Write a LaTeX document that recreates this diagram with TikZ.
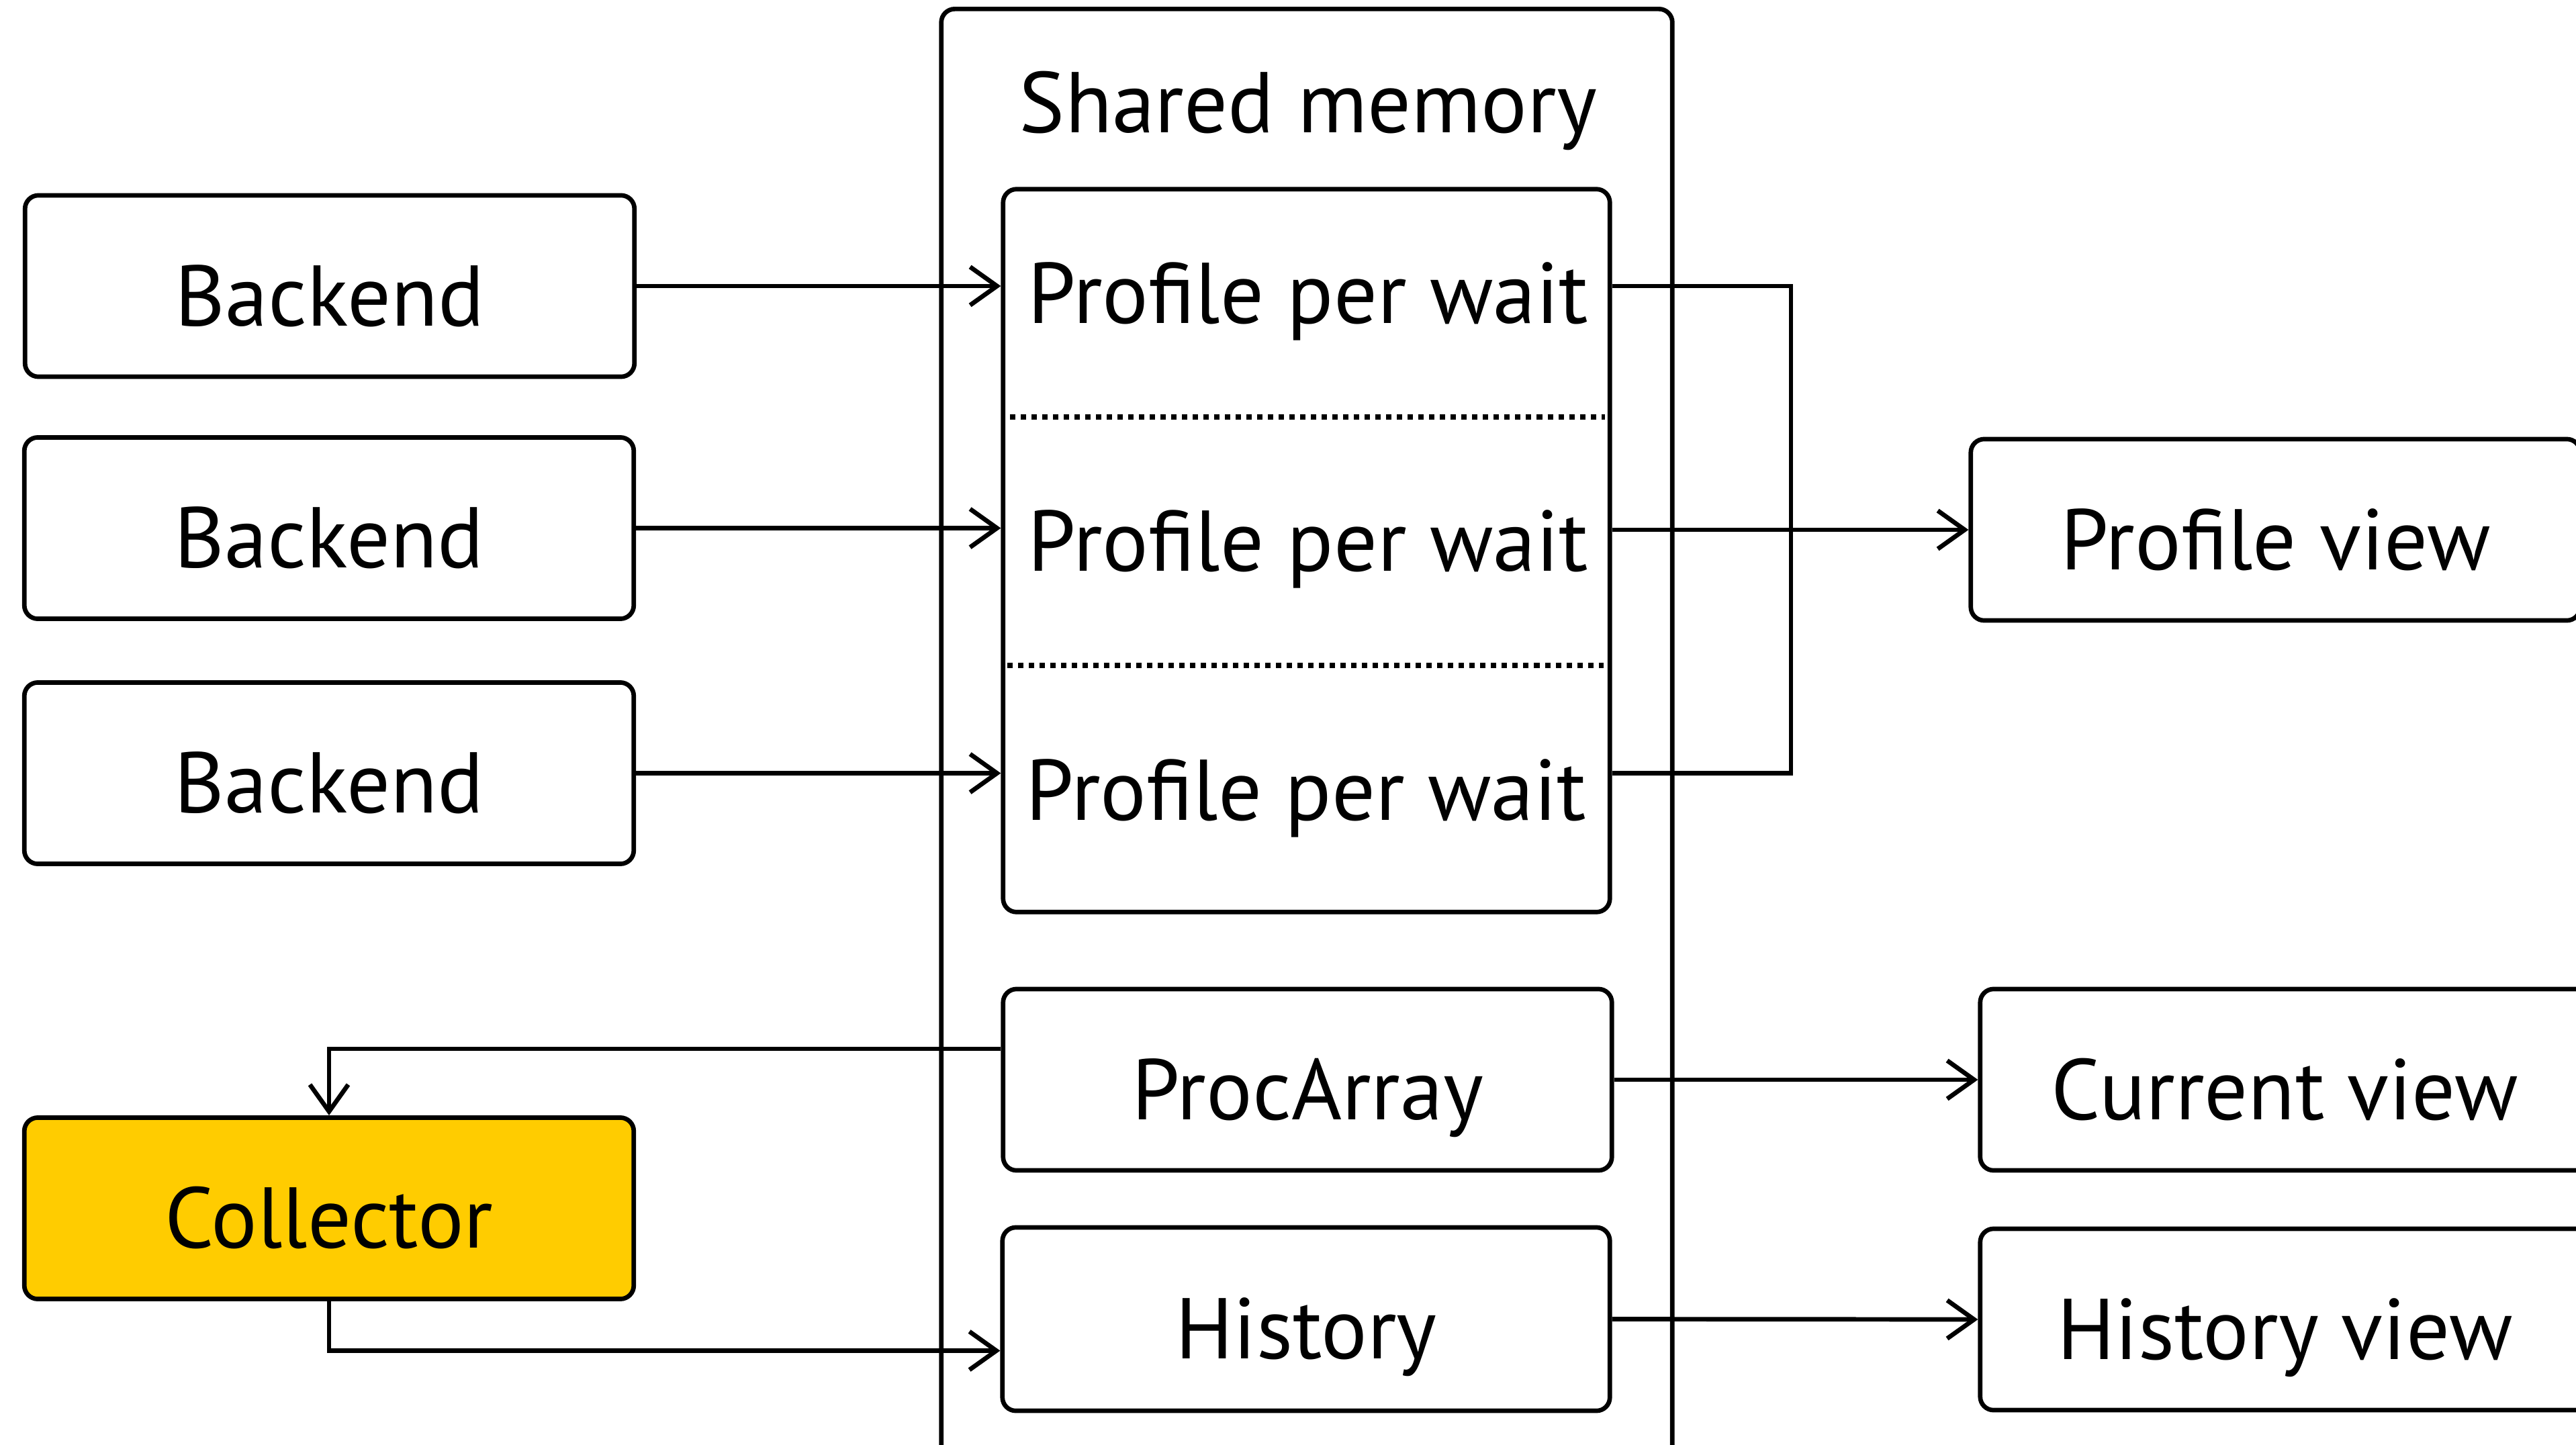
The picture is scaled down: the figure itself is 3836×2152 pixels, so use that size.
\documentclass[tikz,border=0pt]{standalone}
\usepackage{fontspec}
\setmainfont{PT Sans}
\usetikzlibrary{arrows.meta,calc}
\definecolor{collyellow}{HTML}{FFCC00}
\tikzset{
  lw/.style={line width=0.067cm},
  box/.style={draw, lw, rounded corners=0.2cm, inner sep=0pt, minimum width=9.07cm, minimum height=2.70cm,
    font=\fontsize{36.5pt}{40pt}\selectfont, text height=1.4cm, text depth=0.22cm},
  lbl/.style={inner sep=0pt, font=\fontsize{36.5pt}{40pt}\selectfont, text height=1.4cm, text depth=0.22cm},
  conn/.style={lw, line join=miter},
  arr/.style={conn, -{Straight Barb[length=0.4cm,width=0.57cm,line width=0.067cm]}},
  sep/.style={line width=0.08cm, dash pattern=on 0.08cm off 0.08cm}
}
\begin{document}
\begin{tikzpicture}[x=0.01cm,y=-0.01cm]
\useasboundingbox (0,0) rectangle (3836,2152);
% shared memory container
\node[draw, lw, rounded corners=0.2cm, inner sep=0pt, minimum width=10.88cm, minimum height=21.56cm] (shm) at (1946,1092) {};
\node[inner sep=0pt, anchor=base, font=\fontsize{36.5pt}{40pt}\selectfont] (shmt) at (1948,198) {Shared memory};
% backends
\node[box] (b1) at (491,426) {Backend};
\node[box] (b2) at (490,786.5) {Backend};
\node[box] (b3) at (490,1151.5) {Backend};
\node[box, fill=collyellow] (coll) at (490,1799.5) {Collector};
% profile block
\node[draw, lw, rounded corners=0.2cm, inner sep=0pt, minimum width=9.03cm, minimum height=10.76cm] (prof) at (1945.5,820) {};
\coordinate (d1l) at (1504,621); \coordinate (d1r) at (2390,621);
\coordinate (d2l) at (1500,991); \coordinate (d2r) at (2388,991);
\draw[sep] (d1l) -- (d1r);
\draw[sep] (d2l) -- (d2r);
\node[lbl] (p1) at (1948,422) {Profile per wait};
\node[lbl] (p2) at (1948,791) {Profile per wait};
\node[lbl] (p3) at (1945,1162) {Profile per wait};
\node[box, minimum width=9.06cm] (proc) at (1947,1608) {ProcArray};
\node[box, minimum width=9.04cm, minimum height=2.73cm] (hist) at (1945,1964.5) {History};
% views
\node[box] (pview) at (3388.5,789) {Profile view};
\node[box] (cview) at (3402.5,1608) {Current view};
\node[box] (hview) at (3402.5,1965) {History view};
% connectors
\draw[arr] (b1.east) -- (b1.east -| prof.west);
\draw[arr] (b2.east) -- (b2.east -| prof.west);
\draw[arr] (b3.east) -- (b3.east -| prof.west);
\coordinate (br) at (2667,0);
\draw[conn] (b1.east -| prof.east) -- (b1.east -| br) -- (b3.east -| br) -- (b3.east -| prof.east);
\draw[arr] (pview.west -| prof.east) -- (pview.west);
\draw[arr] (proc.east) -- (cview.west);
\draw[arr] (hist.east) -- (hview.west);
\draw[arr] ([yshift=0.46cm]proc.west) -| (coll.north);
\draw[arr] (coll.south) |- ([yshift=-0.47cm]hist.west);
\end{tikzpicture}
\end{document}
